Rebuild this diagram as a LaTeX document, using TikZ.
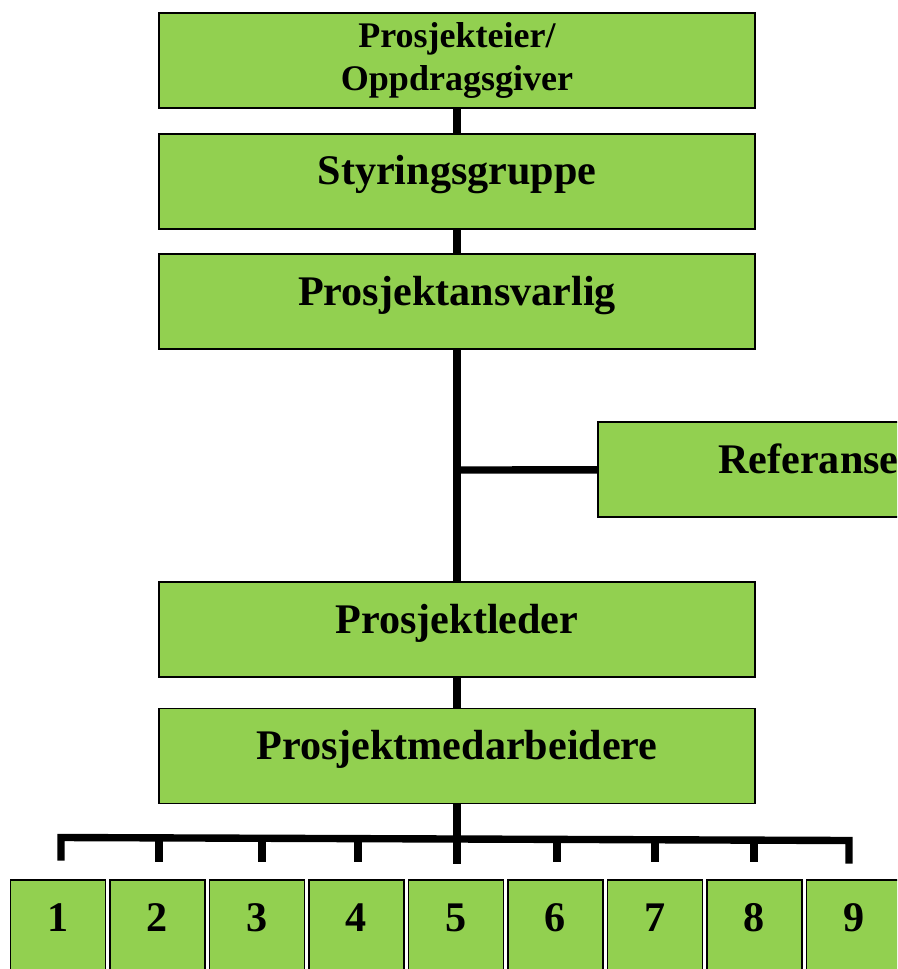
\documentclass[tikz,border=0pt]{standalone}
\usepackage{fontspec}
\setmainfont{Liberation Serif}
\usetikzlibrary{calc}
\definecolor{boxgreen}{HTML}{92D050}
\tikzset{
  greenbox/.style={draw, fill=boxgreen, line width=0.9pt, inner sep=0pt,
    font=\bfseries\fontsize{24}{28}\selectfont},
  orgbox/.style={greenbox, minimum width=11.92cm, minimum height=1.9cm,
    text height=0.58cm, text depth=0.44cm},
  numbox/.style={greenbox, anchor=north, minimum width=1.9cm,
    text height=1.04cm, text depth=1.3cm},
  bar/.style={line width=4.2pt}
}
\begin{document}
\begin{tikzpicture}[x=0.02cm,y=-0.02cm]

\useasboundingbox (0,0) rectangle (897,969);
\clip (0,0) rectangle (897,969);

\node[greenbox, minimum width=11.92cm, minimum height=1.9cm, align=center,
  font=\bfseries\fontsize{20.5}{24}\selectfont] (eier) at (457,60.5) {Prosjekteier/\\Oppdragsgiver};
\node[orgbox] (styr) at (457,181.5) {Styringsgruppe};
\node[orgbox] (ansv) at (457,301.5) {Prosjektansvarlig};
\node[orgbox, anchor=west, text width=7.1cm, align=left, inner xsep=2.4cm] (ref) at (597,469.5) {Referanse};
\node[orgbox] (leder) at (457,629.5) {Prosjektleder};
\node[orgbox] (medarb) at (457,756) {Prosjektmedarbeidere};

\foreach \i in {1,...,9}
  \node[numbox] (team\i) at ({58+99.5*(\i-1)},879) {\i};

\coordinate (refjoin) at (457,470);
\coordinate (busmid) at (457,864);
\coordinate (busL) at (61,837.5);
\coordinate (busR) at (849,840.5);

\draw[bar] (eier) -- (styr);
\draw[bar] (styr) -- (ansv);
\draw[bar] (ansv) -- (leder);
\draw[bar] (refjoin) -- (ref);
\draw[bar] (leder) -- (medarb);
\draw[bar] (medarb) -- (busmid);
\draw[bar] ($(busL)+(0,23)$) -- (busL) -- (busR) -- ($(busR)+(0,23)$);
\foreach \x in {159,262,358,557,655,754}
  \draw[bar] (\x,838.5) -- (\x,862);

\end{tikzpicture}
\end{document}
